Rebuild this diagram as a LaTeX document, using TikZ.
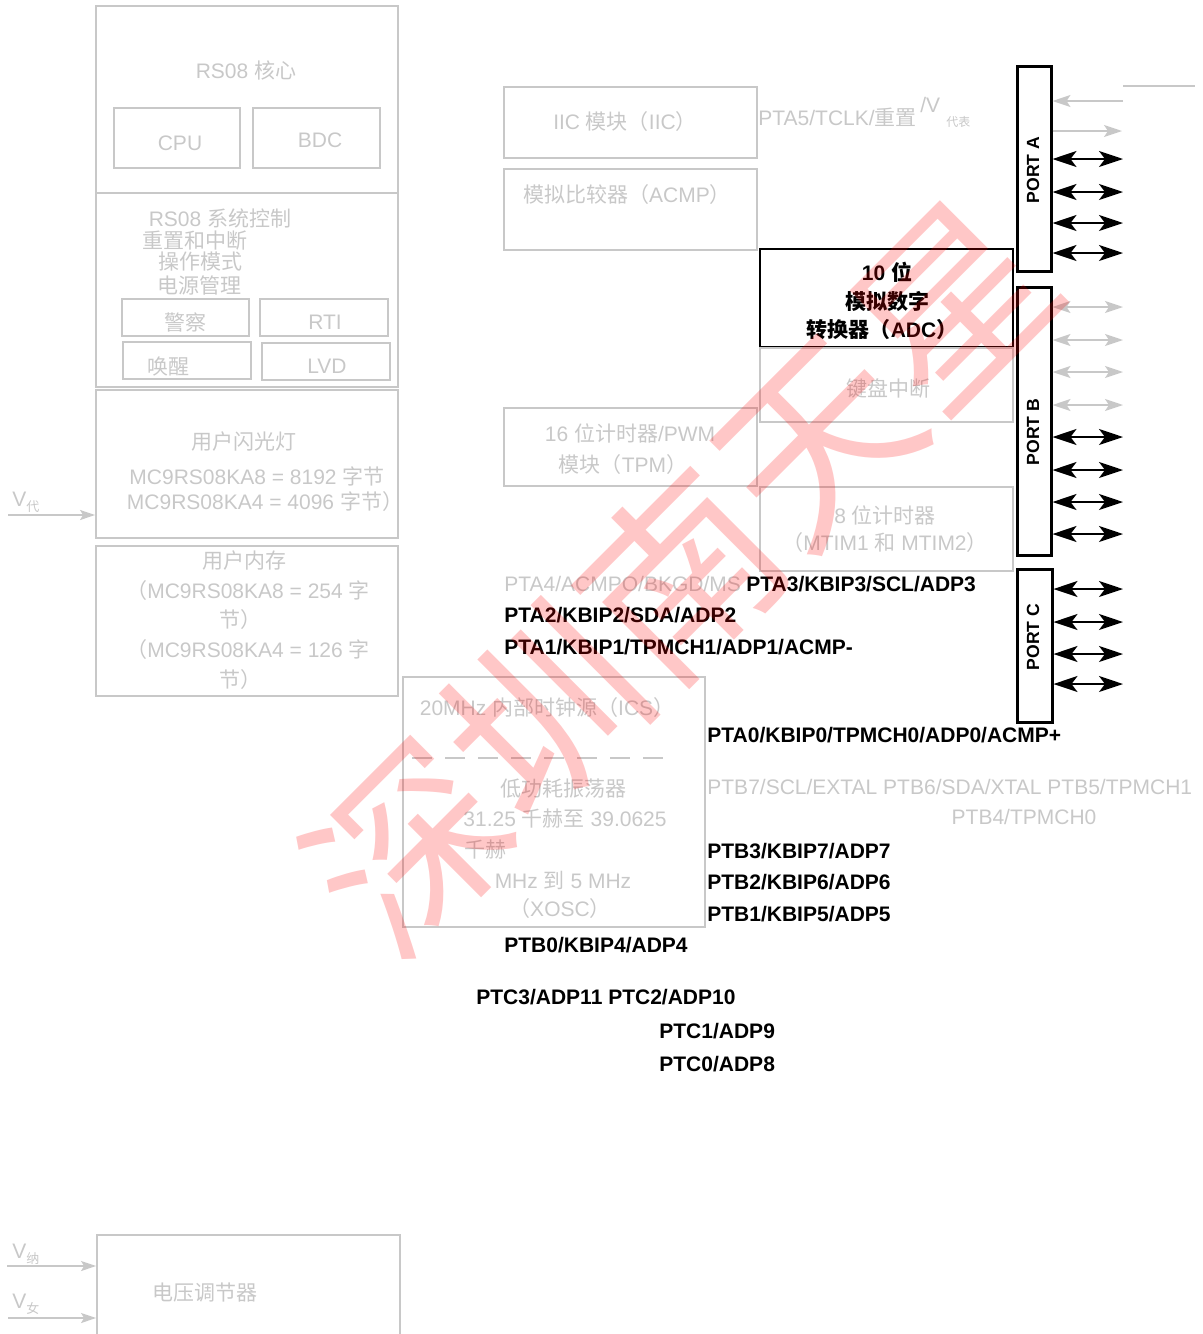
\documentclass[tikz,border=0pt]{standalone}
\usepackage{fontspec}
\setmainfont{Liberation Sans}
\newfontfamily\zhfont{Noto Sans CJK SC}
\usetikzlibrary{arrows.meta,positioning,fit}
\definecolor{faint}{RGB}{200,200,200}
\newcommand{\zh}[1]{{\zhfont #1}}
\newcommand{\figfont}{\fontsize{10.5}{12.6}\selectfont}

\begin{document}
\begin{tikzpicture}[x=0.5pt,y=-0.5pt]
\tikzset{box/.style={draw=faint, line width=0.9pt, inner sep=0pt, fit={#1}}}
\tikzset{adcbox/.style={draw=black, line width=1.3pt, inner sep=0pt, fit={#1}}}
\tikzset{portbox/.style={draw=black, line width=1.5pt, inner sep=0pt, fit={#1}}}
\tikzset{txt/.style={text=faint, font=\figfont, inner sep=0pt}, pin/.style={font=\figfont\bfseries, inner sep=0pt, anchor=west}, gpin/.style={txt, anchor=west}}
\tikzset{portlbl/.style={font=\fontsize{8.8}{10}\selectfont\bfseries, rotate=90, inner sep=0pt}}
\tikzset{bidir/.style={line width=1pt, {Stealth[length=12pt,width=8pt,inset=3pt]}-{Stealth[length=12pt,width=8pt,inset=3pt]}}}
\tikzset{gbidir/.style={draw=faint, line width=0.8pt, {Stealth[length=9pt,width=6pt,inset=2pt]}-{Stealth[length=9pt,width=6pt,inset=2pt]}}}
\tikzset{gone/.style={draw=faint, line width=0.8pt, -{Stealth[length=9pt,width=6pt,inset=2pt]}}}
\tikzset{supply/.style={draw=faint, line width=0.9pt, -{Stealth[length=7.5pt,width=5pt,inset=1.5pt]}}}
\useasboundingbox (0,0) rectangle (1203,1334);
\clip (0,0) rectangle (1203,1334);

% core + system control
\node[box={(96,6) (398,193)}] (core) {};
\node[txt] (corettl) at (246,70) {RS08 \zh{核心}};
\node[box={(114,108) (240,168)}] (cpu) {};
\node[txt] at (180,143) {CPU};
\node[box={(253,108) (380,168)}] (bdc) {};
\node[txt] at (320,140) {BDC};
\node[box={(96,193) (398,387)}] (sysctl) {};
\node[txt] (sys1) at (220,218) {RS08 \zh{系统控制}};
\node[txt] (sys2) at (195,241) {\zh{重置和中断}};
\node[txt] (sys3) at (200,262) {\zh{操作模式}};
\node[txt] (sys4) at (199,285) {\zh{电源管理}};
\node[box={(122,299) (249,336)}] (wdog) {};
\node[txt] at (185,322) {\zh{警察}};
\node[box={(260,299) (388,336)}] (rti) {};
\node[txt] at (325,322) {RTI};
\node[box={(123,342) (251,379)}] (wake) {};
\node[txt] at (168,366) {\zh{唤醒}};
\node[box={(262,343) (390,380)}] (lvd) {};
\node[txt] at (327,366) {LVD};

% memories
\node[box={(96,390) (398,538)}] (flash) {};
\node[txt] (fl1) at (244,442) {\zh{用户闪光灯}};
\node[txt] (fl2) at (257,476) {MC9RS08KA8 = 8192 \zh{字节}};
\node[txt] (fl3) at (265,502) {MC9RS08KA4 = 4096 \zh{字节）}};
\node[box={(96,546) (398,696)}] (ram) {};
\node[txt] (ram1) at (244,561) {\zh{用户内存}};
\node[txt] (ram2) at (248,591) {\zh{（}MC9RS08KA8 = 254 \zh{字}};
\node[txt] (ram3) at (240,620) {\zh{节）}};
\node[txt] (ram4) at (248,650) {\zh{（}MC9RS08KA4 = 126 \zh{字}};
\node[txt] (ram5) at (240,680) {\zh{节）}};

% supplies
\coordinate (vdd) at (8,515);
\node[txt, anchor=base west] (vddlbl) at (12,506) {V\raisebox{-0.5ex}{\fontsize{6.5}{7}\selectfont\zh{代}}};
\draw[supply] (vdd) -- (flash.west |- vdd);
\node[box={(97,1235) (400,1345)}] (vreg) {};
\node[txt] (vregtxt) at (205,1293) {\zh{电压调节器}};
\coordinate (vdda) at (7,1266);
\coordinate (vssa) at (8,1318);
\node[txt, anchor=base west] (vddalbl) at (12,1258) {V\raisebox{-0.5ex}{\fontsize{6.5}{7}\selectfont\zh{纳}}};
\node[txt, anchor=base west] (vssalbl) at (12,1308) {V\raisebox{-0.5ex}{\fontsize{6.5}{7}\selectfont\zh{女}}};
\draw[supply] (vdda) -- (vreg.west |- vdda);
\draw[supply] (vssa) -- (vreg.west |- vssa);

% peripherals
\node[box={(504,87) (757,158)}] (iic) {};
\node[txt] at (625,122) {IIC \zh{模块（}IIC\zh{）}};
\node[box={(504,169) (757,250)}] (acmp) {};
\node[txt] at (627,195) {\zh{模拟比较器（}ACMP\zh{）}};
\node[gpin] (pta5) at (758,117) {PTA5/TCLK/\zh{重置}};
\node[gpin] (pta5v) at (920,105) {/V};
\node[txt, anchor=west, font=\fontsize{6}{7}\selectfont] (pta5s) at (946,122) {\zh{代表}};
\node[adcbox={(760,249) (1013,347)}] (adc) {};
\node[font=\figfont\bfseries, inner sep=0pt] (adc1) at (887,272) {10 \zh{位}};
\node[font=\figfont\bfseries, inner sep=0pt] (adc2) at (887,301) {\zh{模拟数字}};
\node[font=\figfont\bfseries, inner sep=0pt] (adc3) at (882,330) {\zh{转换器（}ADC\zh{）}};
\node[box={(760,348) (1013,422)}] (kbi) {};
\node[txt] at (888,388) {\zh{键盘中断}};
\node[box={(504,408) (757,486)}] (tpm) {};
\node[txt] (tpm1) at (630,433) {16 \zh{位计时器}/PWM};
\node[txt] (tpm2) at (623,465) {\zh{模块（}TPM\zh{）}};
\node[box={(760,487) (1013,571)}] (mtim) {};
\node[txt] (mtim1) at (885,515) {8 \zh{位计时器}};
\node[txt] (mtim2) at (885,543) {\zh{（}MTIM1 \zh{和} MTIM2\zh{）}};
\node[box={(403,677) (705,927)}] (ics) {};
\node[txt] (ics1) at (547,708) {20MHz \zh{内部时钟源（}ICS\zh{）}};
\draw[faint, line width=0.8pt, dash pattern=on 10pt off 6.5pt] (412,758) -- (673,758);
\node[txt] (ics2) at (563,789) {\zh{低功耗振荡器}};
\node[txt] (ics3) at (565,819) {31.25 \zh{千赫至} 39.0625};
\node[txt, anchor=west] (ics4) at (464,850) {\zh{千赫}};
\node[txt] (ics5) at (563,880) {MHz \zh{到} 5 MHz};
\node[txt] (ics6) at (560,909) {\zh{（}XOSC\zh{）}};

% pin names
\node[gpin] (pta4) at (504,584) {PTA4/ACMPO/BKGD/MS};
\node[pin] (pta3) at (746,584) {PTA3/KBIP3/SCL/ADP3};
\node[pin] (pta2) at (504,615) {PTA2/KBIP2/SDA/ADP2};
\node[pin] (pta1) at (504,647) {PTA1/KBIP1/TPMCH1/ADP1/ACMP-};
\node[pin] (pta0) at (707,735) {PTA0/KBIP0/TPMCH0/ADP0/ACMP+};
\node[gpin] (ptb7) at (707,787) {PTB7/SCL/EXTAL PTB6/SDA/XTAL PTB5/TPMCH1};
\node[txt] (ptb4) at (1024,817) {PTB4/TPMCH0};
\node[pin] (ptb3) at (707,851) {PTB3/KBIP7/ADP7};
\node[pin] (ptb2) at (707,882) {PTB2/KBIP6/ADP6};
\node[pin] (ptb1) at (707,914) {PTB1/KBIP5/ADP5};
\node[pin] (ptb0) at (504,945) {PTB0/KBIP4/ADP4};
\node[pin] (ptc3) at (476,997) {PTC3/ADP11 PTC2/ADP10};
\node[pin] (ptc1) at (659,1031) {PTC1/ADP9};
\node[pin] (ptc0) at (659,1064) {PTC0/ADP8};

% ports
\node[portbox={(1017,66) (1051,271)}] (porta) {};
\node[portlbl] at (1033,170) {PORT A};
\node[portbox={(1017,287) (1051,555)}] (portb) {};
\node[portlbl] at (1033,432) {PORT B};
\node[portbox={(1017,569) (1052,722)}] (portc) {};
\node[portlbl] at (1033,637) {PORT C};

\coordinate (resetl) at (1123,86);
\coordinate (resetr) at (1195,86);
\draw[faint, line width=0.8pt] (resetl) -- (resetr);
\coordinate (pa5) at (1123,101);
\draw[gone] (pa5) -- (porta.east |- pa5);
\coordinate (pa4) at (1122,131);
\draw[gone] (porta.east |- pa4) -- (pa4);
\foreach \y [count=\i] in {159,192,223,253} {
  \coordinate (pa\i) at (1123,\y);
  \draw[bidir] (porta.east |- pa\i) -- (pa\i);
}
\foreach \y [count=\i] in {307,340,372,405} {
  \coordinate (pbh\i) at (1123,\y);
  \draw[gbidir] (portb.east |- pbh\i) -- (pbh\i);
}
\foreach \y [count=\i] in {437,470,502,534} {
  \coordinate (pbl\i) at (1123,\y);
  \draw[bidir] (portb.east |- pbl\i) -- (pbl\i);
}
\foreach \y [count=\i] in {589,622,654,684} {
  \coordinate (pc\i) at (1123,\y);
  \draw[bidir] (portc.east |- pc\i) -- (pc\i);
}

% watermark on top
\node[font=\zhfont\fontsize{96}{96}\selectfont, text=red, text opacity=0.22, rotate=45, inner sep=0pt] (wmark) at (680,575) {深圳南天星};
\end{tikzpicture}
\end{document}
